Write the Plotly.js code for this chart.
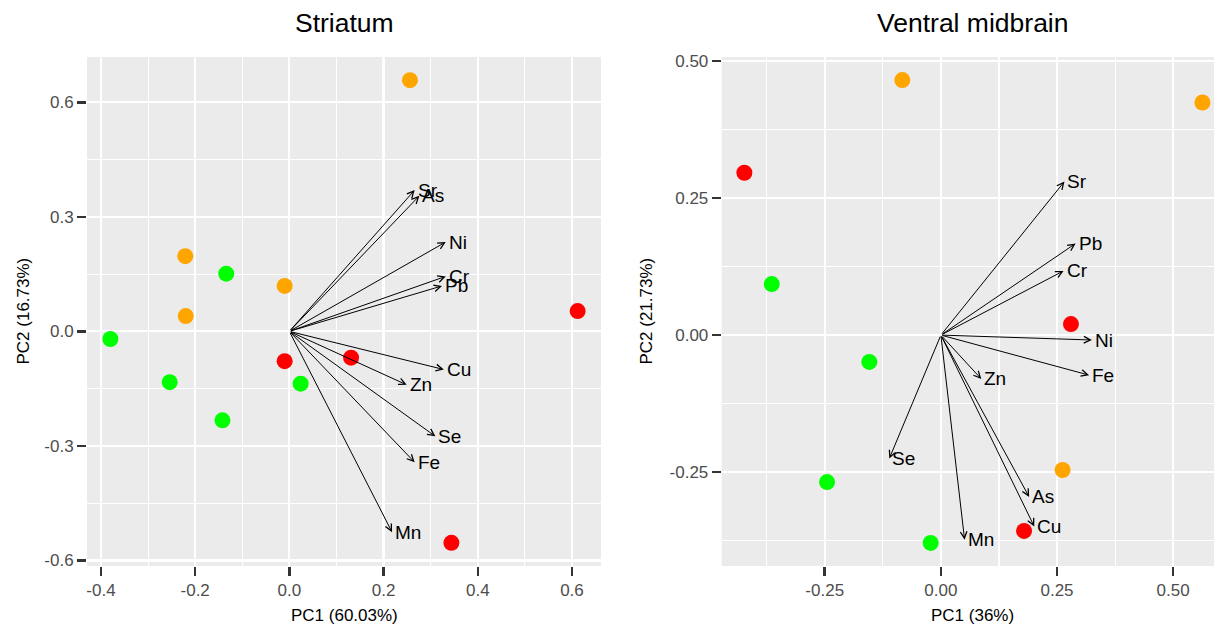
<!DOCTYPE html>
<html><head><meta charset="utf-8">
<script src="https://cdn.plot.ly/plotly-3.0.1.min.js"></script>
<style>html,body{margin:0;padding:0;background:#fff}#chart{width:1214px;height:625px}</style>
</head><body><div id="chart"></div>
<script>
// ---------- Striatum (left panel) ----------
const strOrangeX = [0.256, -0.221, -0.010, -0.220];
const strOrangeY = [0.658, 0.197, 0.119, 0.040];
const strGreenX = [-0.134, -0.380, -0.254, 0.024, -0.142];
const strGreenY = [0.151, -0.020, -0.133, -0.137, -0.233];
const strRedX = [0.612, -0.010, 0.131, 0.344];
const strRedY = [0.053, -0.078, -0.069, -0.554];
const strLoadNames = ['Sr', 'As', 'Ni', 'Cr', 'Pb', 'Cu', 'Zn', 'Se', 'Fe', 'Mn'];
const strLoadX = [0.266, 0.276, 0.332, 0.332, 0.324, 0.328, 0.249, 0.310, 0.266, 0.218];
const strLoadY = [0.370, 0.355, 0.234, 0.144, 0.119, -0.100, -0.140, -0.275, -0.343, -0.526];
const strXTicks = [-0.4, -0.2, 0.0, 0.2, 0.4, 0.6];
const strXTickText = ['-0.4', '-0.2', '0.0', '0.2', '0.4', '0.6'];
const strYTicks = [-0.6, -0.3, 0.0, 0.3, 0.6];
const strYTickText = ['-0.6', '-0.3', '0.0', '0.3', '0.6'];
const strXMinor = [-0.3, -0.1, 0.1, 0.3, 0.5];
const strYMinor = [-0.45, -0.15, 0.15, 0.45];

// ---------- Ventral midbrain (right panel) ----------
const vmOrangeX = [-0.083, 0.563, 0.262];
const vmOrangeY = [0.465, 0.424, -0.246];
const vmGreenX = [-0.364, -0.154, -0.245, -0.022];
const vmGreenY = [0.093, -0.049, -0.268, -0.379];
const vmRedX = [-0.423, 0.280, 0.179];
const vmRedY = [0.296, 0.020, -0.357];
const vmLoadNames = ['Sr', 'Pb', 'Cr', 'Ni', 'Fe', 'Zn', 'As', 'Cu', 'Mn', 'Se'];
const vmLoadX = [0.266, 0.290, 0.264, 0.325, 0.319, 0.087, 0.190, 0.201, 0.051, -0.111];
const vmLoadY = [0.280, 0.167, 0.117, -0.009, -0.073, -0.080, -0.295, -0.349, -0.373, -0.225];
const vmXTicks = [-0.25, 0.0, 0.25, 0.5];
const vmXTickText = ['-0.25', '0.00', '0.25', '0.50'];
const vmYTicks = [-0.25, 0.0, 0.25, 0.5];
const vmYTickText = ['-0.25', '0.00', '0.25', '0.50'];
const vmXMinor = [-0.375, -0.125, 0.125, 0.375];
const vmYMinor = [-0.375, -0.125, 0.125, 0.375];

const titles = ['Striatum', 'Ventral midbrain'];
const xTitles = ['PC1 (60.03%)', 'PC1 (36%)'];
const yTitles = ['PC2 (16.73%)', 'PC2 (21.73%)'];

const FONT = 'Liberation Sans, Arial, sans-serif';
const COLORS = {orange: '#FFA500', green: '#00FF00', red: '#FF0000'};

function pts(x, y, color, xa, ya, name) {
  return {type: 'scatter', mode: 'markers', x: x, y: y, xaxis: xa, yaxis: ya, name: name,
    showlegend: false, hoverinfo: 'x+y',
    marker: {color: color, size: 16, line: {width: 0}}};
}

const data = [
  pts(strOrangeX, strOrangeY, COLORS.orange, 'x', 'y', 'orange'),
  pts(strGreenX, strGreenY, COLORS.green, 'x', 'y', 'green'),
  pts(strRedX, strRedY, COLORS.red, 'x', 'y', 'red'),
  pts(vmOrangeX, vmOrangeY, COLORS.orange, 'x2', 'y2', 'orange'),
  pts(vmGreenX, vmGreenY, COLORS.green, 'x2', 'y2', 'green'),
  pts(vmRedX, vmRedY, COLORS.red, 'x2', 'y2', 'red')
];

const annotations = [];
function loadings(names, lx, ly, xr, yr) {
  for (let i = 0; i < names.length; i++) {
    annotations.push({x: lx[i], y: ly[i], ax: 0, ay: 0, xref: xr, yref: yr, axref: xr, ayref: yr,
      text: '', showarrow: true, arrowhead: 5, arrowsize: 1.3, arrowwidth: 1, arrowcolor: '#000',
      standoff: 0, startstandoff: 0});
    annotations.push({x: lx[i], y: ly[i], xref: xr, yref: yr, text: names[i], showarrow: false,
      xanchor: 'left', yanchor: 'middle', xshift: 2, borderpad: 0,
      font: {family: FONT, size: 19, color: '#000'}});
  }
}
loadings(strLoadNames, strLoadX, strLoadY, 'x', 'y');
loadings(vmLoadNames, vmLoadX, vmLoadY, 'x2', 'y2');

// panel titles and axis titles
const W = 1214, H = 625;
const centers = [344 / W, 973 / W];
const yCenters = [23 / W, 646 / W];
for (let k = 0; k < 2; k++) {
  annotations.push({xref: 'paper', yref: 'paper', x: centers[k], y: 1 - 23 / H, text: titles[k],
    showarrow: false, xanchor: 'center', yanchor: 'middle', font: {family: FONT, size: 26.5, color: '#000'}});
  annotations.push({xref: 'paper', yref: 'paper', x: centers[k], y: 1 - 615 / H, text: xTitles[k],
    showarrow: false, xanchor: 'center', yanchor: 'middle', font: {family: FONT, size: 17, color: '#000'}});
  annotations.push({xref: 'paper', yref: 'paper', x: yCenters[k], y: 1 - 311.5 / H, text: yTitles[k],
    showarrow: false, xanchor: 'center', yanchor: 'middle', textangle: -90, font: {family: FONT, size: 17, color: '#000'}});
}

function axis(range, domain, tickvals, ticktext, minorvals, anchor) {
  return {range: range, domain: domain, anchor: anchor, tickvals: tickvals, ticktext: ticktext,
    showgrid: true, gridcolor: '#FFFFFF', gridwidth: 2.2, zeroline: false, showline: false,
    ticks: 'outside', ticklen: 9, tickwidth: 2.5, tickcolor: '#333333',
    tickfont: {family: FONT, size: 17, color: '#4D4D4D'},
    minor: {tickvals: minorvals, showgrid: true, gridcolor: '#FFFFFF', gridwidth: 1.1, ticks: ''},
    fixedrange: true};
}

const yDom = [1 - 566 / H, 1 - 57 / H];
const layout = {
  width: W, height: H,
  margin: {l: 0, r: 0, t: 0, b: 0, pad: 0},
  paper_bgcolor: '#FFFFFF',
  plot_bgcolor: '#EBEBEB',
  showlegend: false,
  font: {family: FONT},
  xaxis: axis([-0.4296, 0.6616], [87 / W, 601 / W], strXTicks, strXTickText, strXMinor, 'y'),
  yaxis: axis([-0.6146, 0.7186], yDom, strYTicks, strYTickText, strYMinor, 'x'),
  xaxis2: axis([-0.4718, 0.5879], [721.7 / W, 1], vmXTicks, vmXTickText, vmXMinor, 'y2'),
  yaxis2: axis([-0.421, 0.507], yDom, vmYTicks, vmYTickText, vmYMinor, 'x2'),
  annotations: annotations
};

Plotly.newPlot('chart', data, layout, {displayModeBar: false, staticPlot: true});
</script></body></html>
